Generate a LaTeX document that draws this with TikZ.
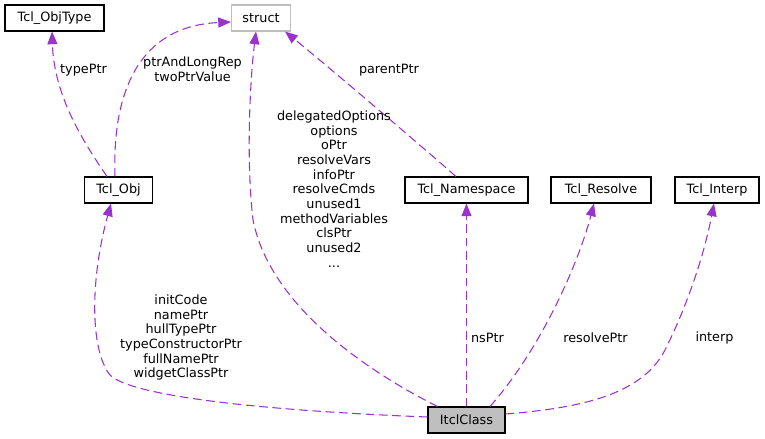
\documentclass[tikz,border=0pt]{standalone}
\usepackage{fontspec}
\setmainfont{DejaVu Sans}
\usepackage{tikz}
\usetikzlibrary{arrows.meta, calc, positioning}
\definecolor{edgepurple}{HTML}{9A32CD}
\definecolor{boxgray}{HTML}{BFBFBF}

\begin{document}
\begin{tikzpicture}[
    x=0.75pt, y=-0.75pt,
    font=\fontsize{9.6}{11}\selectfont,
    classbox/.style={draw=black, line width=0.8pt, minimum height=19.5pt, inner sep=0pt, fill=white},
    extbox/.style={classbox, draw=boxgray},
    mainbox/.style={classbox, fill=boxgray},
    uses/.style={edgepurple, line width=0.8pt, dash pattern=on 6.5pt off 3.5pt, -{Triangle[length=9.5pt,width=7.5pt]}},
    edgelabel/.style={align=center, inner sep=0pt}
]

% ---------- parameters ----------
\def\pxu{0.75pt}
% one unit = one pixel of the 765x439 frame, y grows downwards

\useasboundingbox (0,0) rectangle (765,439);

% ---------- classes ----------
\node[classbox, minimum width=99*\pxu]  (objtype) at (54.5,18)  {Tcl\_ObjType};
\node[extbox,   minimum width=59*\pxu]  (struct)  at (261,18)   {struct};
\node[classbox, minimum width=68*\pxu]  (obj)     at (118.5,190) {Tcl\_Obj};
\node[classbox, minimum width=123*\pxu] (ns)      at (466.5,190) {Tcl\_Namespace};
\node[classbox, minimum width=100*\pxu] (resolve) at (601,190)  {Tcl\_Resolve};
\node[classbox, minimum width=84*\pxu]  (interp)  at (717,190)  {Tcl\_Interp};
\node[mainbox,  minimum width=77*\pxu]  (itcl)    at (466.5,420) {ItclClass};

% ---------- Tcl_Obj members ----------
\draw[uses] ($(obj.north)+(-11.5,0)$) .. controls (82,140) and (54,95) .. ($(objtype.south)+(-2.5,0)$);
\node[edgelabel] (lbltypeptr) at (83.5,70) {typePtr};

\draw[uses] ($(obj.north)+(-3.5,0)$) .. controls (112,90) and (140,26) .. ($(struct.west)+(0,4)$);
\node[edgelabel] (lblptrrep) at (192.5,69.5) {ptrAndLongRep\\twoPtrValue};

% ---------- Tcl_Namespace -> struct ----------
\draw[uses] ($(ns.north)+(-10.5,0)$) .. controls (420,145) and (330,68) .. ($(struct.south east)+(-6,0)$);
\node[edgelabel] (lblparent) at (389,70) {parentPtr};

% ---------- ItclClass members ----------
\draw[uses] ($(itcl.north west)+(10,0)$) .. controls (365,370) and (270,305) .. (253,220)
    .. controls (246,160) and (250,80) .. ($(struct.south)+(-5,0)$);
\node[edgelabel] (lblstruct) at (334,189) {delegatedOptions\\options\\oPtr\\resolveVars\\infoPtr\\resolveCmds\\unused1\\methodVariables\\clsPtr\\unused2\\...};

\draw[uses] ($(itcl.west)+(0,-3)$) .. controls (250,410) and (130,395) .. (110,375)
    .. controls (90,350) and (90,280) .. ($(obj.south)+(-7.5,0)$);
\node[edgelabel] (lblobj) at (181,337.5) {initCode\\namePtr\\hullTypePtr\\typeConstructorPtr\\fullNamePtr\\widgetClassPtr};

\draw[uses] (itcl.north) -- (ns.south);
\node[edgelabel] (lblns) at (487.5,337.7) {nsPtr};

\draw[uses] ($(itcl.north)+(23.5,0)$) .. controls (540,350) and (578,265) .. ($(resolve.south)+(-7,0)$);
\node[edgelabel] (lblresolve) at (595.5,337.7) {resolvePtr};

\draw[uses] ($(itcl.east)+(0,-6)$) .. controls (580,408) and (642,395) .. (665,350)
    .. controls (690,300) and (705,250) .. ($(interp.south)+(-3,0)$);
\node[edgelabel] (lblinterp) at (714.5,337.7) {interp};

\end{tikzpicture}
\end{document}
